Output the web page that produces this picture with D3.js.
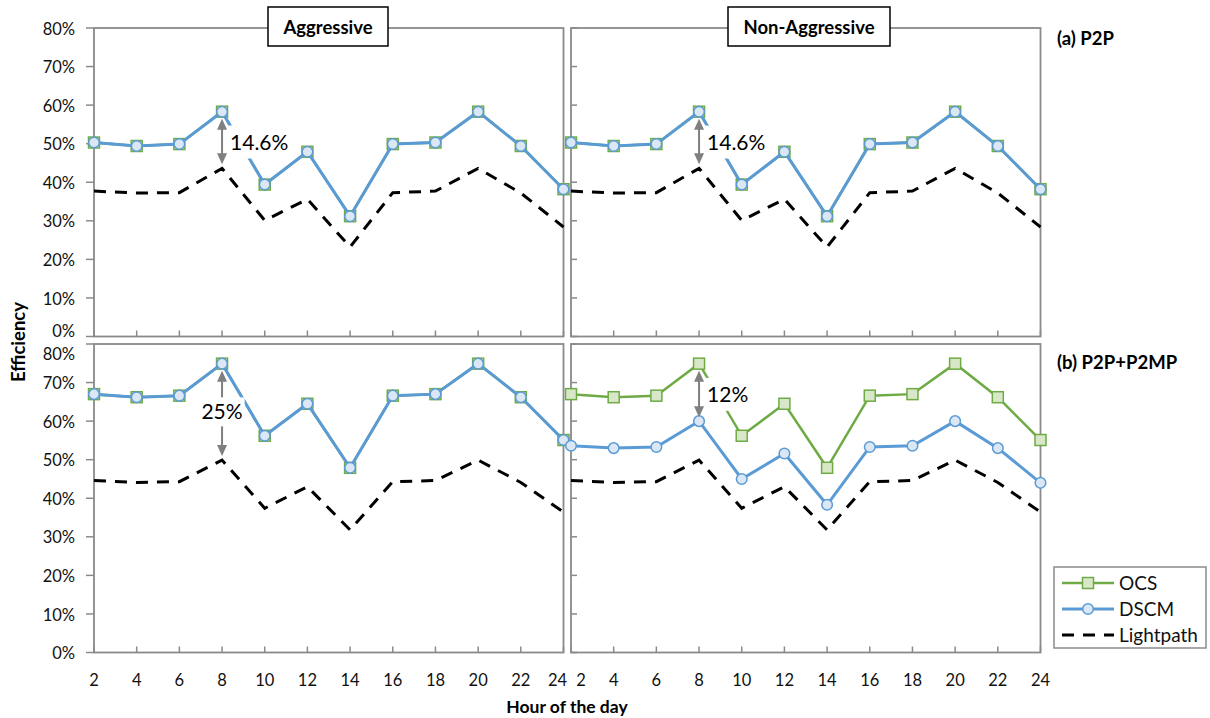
<!DOCTYPE html>
<html>
<head>
<meta charset="utf-8">
<script src="https://cdn.jsdelivr.net/npm/d3@7"></script>
<style>
  body { margin: 0; background: #fff; }
  text { font-family: Lato, "Open Sans", sans-serif; }
</style>
</head>
<body>
<div id="chart"></div>
<script>
// Hours on the x axis and the y tick values (percent)
var hours = [2, 4, 6, 8, 10, 12, 14, 16, 18, 20, 22, 24];
var yTicks = [0, 10, 20, 30, 40, 50, 60, 70, 80];

// (a) P2P - same for both policies
var p2pOCS   = [50.3, 49.4, 49.9, 58.3, 39.4, 47.9, 31.2, 49.9, 50.3, 58.3, 49.4, 38.2];
var p2pDSCM  = [50.3, 49.4, 49.9, 58.3, 39.4, 47.9, 31.2, 49.9, 50.3, 58.3, 49.4, 38.2];
var p2pLight = [37.7, 37.2, 37.3, 43.6, 30.1, 35.6, 23.2, 37.3, 37.7, 43.6, 37.2, 28.4];

// (b) P2P+P2MP
var mpOCS        = [67.0, 66.2, 66.6, 74.9, 56.2, 64.5, 47.9, 66.6, 67.0, 74.9, 66.2, 55.1];
var mpAggDSCM    = [67.0, 66.2, 66.6, 74.9, 56.2, 64.5, 47.9, 66.6, 67.0, 74.9, 66.2, 55.1];
var mpNonAggDSCM = [53.6, 53.0, 53.3, 60.0, 45.0, 51.6, 38.3, 53.3, 53.6, 60.0, 53.0, 44.0];
var mpLight      = [44.6, 44.1, 44.3, 49.9, 37.4, 43.0, 31.8, 44.3, 44.6, 49.9, 44.1, 36.4];

var columnTitles = ["Aggressive", "Non-Aggressive"];
var rowTitles = ["(a) P2P", "(b) P2P+P2MP"];
var seriesNames = ["OCS", "DSCM", "Lightpath"];

// Gap annotations: panel index, hour, upper value, lower value, label
var gapPanels = [0, 1, 2, 3];
var gapHours  = [8, 8, 8, 8];
var gapUpper  = [58.3, 58.3, 74.9, 74.9];
var gapLower  = [43.6, 43.6, 49.9, 60.0];
var gapLabels = ["14.6%", "14.6%", "25%", "12%"];

// Colours
var green = "#6fab45", greenFill = "#d8e7c8";
var blue = "#5b9bd5", blueFill = "#dbe7f5";
var borderGray = "#8a8a8a", arrowGray = "#7f7f7f";

var width = 1210, height = 718;

var svg = d3.select("#chart")
    .append("svg")
    .attr("width", width)
    .attr("height", height);

// Panel layout
var colLeft = [94, 571];
var panelW = 469.5;
var rowTop = [28, 344];
var panelH = 308.5;

var panels = [
    {col: 0, row: 0, ocs: p2pOCS, dscm: p2pDSCM, light: p2pLight},
    {col: 1, row: 0, ocs: p2pOCS, dscm: p2pDSCM, light: p2pLight},
    {col: 0, row: 1, ocs: mpOCS, dscm: mpAggDSCM, light: mpLight},
    {col: 1, row: 1, ocs: mpOCS, dscm: mpNonAggDSCM, light: mpLight}
];

panels.forEach(function(p, pi) {
    var x0 = colLeft[p.col], y0 = rowTop[p.row];
    var xScale = d3.scaleLinear().domain([2, 24]).range([x0, x0 + panelW]);
    var yScale = d3.scaleLinear().domain([0, 80]).range([y0 + panelH, y0]);
    p.x = xScale; p.y = yScale;

    var g = svg.append("g");

    // Panel frame
    g.append("rect")
        .attr("x", x0).attr("y", y0)
        .attr("width", panelW).attr("height", panelH)
        .attr("fill", "none")
        .attr("stroke", borderGray)
        .attr("stroke-width", 1.8);

    // y ticks: outward on left panels, inward on right panels
    g.selectAll(".ytick")
        .data(yTicks)
        .enter()
        .append("line")
        .attr("x1", p.col === 0 ? x0 - 8 : x0)
        .attr("x2", p.col === 0 ? x0 : x0 + 6)
        .attr("y1", function(d) { return yScale(d); })
        .attr("y2", function(d) { return yScale(d); })
        .attr("stroke", borderGray)
        .attr("stroke-width", 1.5);

    // x ticks pointing up into the plot
    g.selectAll(".xtick")
        .data(hours)
        .enter()
        .append("line")
        .attr("x1", function(d) { return xScale(d); })
        .attr("x2", function(d) { return xScale(d); })
        .attr("y1", y0 + panelH)
        .attr("y2", y0 + panelH - 6)
        .attr("stroke", borderGray)
        .attr("stroke-width", 1.5);

    // y tick labels on the left column only
    if (p.col === 0) {
        g.selectAll(".ylab")
            .data(yTicks)
            .enter()
            .append("text")
            .attr("x", 75)
            .attr("y", function(d) {
                var shift = 0;
                if (p.row === 0 && d === 0) shift = -6;
                if (p.row === 1 && d === 80) shift = 9;
                return yScale(d) + shift;
            })
            .attr("dy", "0.4em")
            .attr("text-anchor", "end")
            .attr("font-size", "16.5px")
            .attr("fill", "#111")
            .text(function(d) { return d + "%"; });
    }

    // x tick labels on the bottom row only
    if (p.row === 1) {
        g.selectAll(".xlab")
            .data(hours)
            .enter()
            .append("text")
            .attr("x", function(d) {
                var shift = 0;
                if (p.col === 0 && d === 24) shift = -6;
                if (p.col === 1 && d === 2) shift = 10;
                return xScale(d) + shift;
            })
            .attr("y", 686)
            .attr("text-anchor", "middle")
            .attr("font-size", "16.5px")
            .attr("fill", "#111")
            .text(function(d) { return d; });
    }

    var line = function(vals) {
        return d3.line()
            .x(function(d, i) { return xScale(hours[i]); })
            .y(function(d) { return yScale(d); })(vals);
    };

    // OCS
    g.append("path")
        .attr("d", line(p.ocs))
        .attr("fill", "none")
        .attr("stroke", green)
        .attr("stroke-width", 2.5);
    g.selectAll(".ocsmark")
        .data(p.ocs)
        .enter()
        .append("rect")
        .attr("x", function(d, i) { return xScale(hours[i]) - 5.5; })
        .attr("y", function(d) { return yScale(d) - 5.5; })
        .attr("width", 11).attr("height", 11)
        .attr("fill", greenFill)
        .attr("stroke", green)
        .attr("stroke-width", 1.5);

    // DSCM
    g.append("path")
        .attr("d", line(p.dscm))
        .attr("fill", "none")
        .attr("stroke", blue)
        .attr("stroke-width", 3);
    g.selectAll(".dscmmark")
        .data(p.dscm)
        .enter()
        .append("circle")
        .attr("cx", function(d, i) { return xScale(hours[i]); })
        .attr("cy", function(d) { return yScale(d); })
        .attr("r", 5.3)
        .attr("fill", blueFill)
        .attr("stroke", blue)
        .attr("stroke-width", 1.5);

    // Lightpath
    g.append("path")
        .attr("d", line(p.light))
        .attr("fill", "none")
        .attr("stroke", "#000")
        .attr("stroke-width", 3)
        .attr("stroke-dasharray", "12,9");
});

// Gap annotations with double arrows
gapPanels.forEach(function(pi, k) {
    var p = panels[pi];
    var ax = p.x(gapHours[k]);
    var yTop = p.y(gapUpper[k]) + 7;
    var yBot = p.y(gapLower[k]) - 4;
    var g = svg.append("g");

    g.append("line")
        .attr("x1", ax).attr("x2", ax)
        .attr("y1", yTop + 8).attr("y2", yBot - 8)
        .attr("stroke", arrowGray)
        .attr("stroke-width", 2);
    g.append("path")
        .attr("d", "M" + ax + "," + yTop + "L" + (ax - 5) + "," + (yTop + 11) + "L" + (ax + 5) + "," + (yTop + 11) + "Z")
        .attr("fill", arrowGray);
    g.append("path")
        .attr("d", "M" + ax + "," + yBot + "L" + (ax - 5) + "," + (yBot - 11) + "L" + (ax + 5) + "," + (yBot - 11) + "Z")
        .attr("fill", arrowGray);

    var label = g.append("text")
        .attr("font-size", "21px")
        .attr("fill", "#000")
        .text(gapLabels[k]);

    if (p.row === 1 && p.col === 0) {
        // label sits on the arrow shaft
        var mid = (yTop + yBot) / 2 - 2;
        label.attr("x", ax).attr("y", mid + 7.5).attr("text-anchor", "middle");
        var bb = label.node().getBBox();
        g.insert("rect", "text")
            .attr("x", bb.x - 2).attr("y", mid - 14)
            .attr("width", bb.width + 4).attr("height", 29)
            .attr("fill", "#fff");
    } else {
        var mid2 = (yTop + yBot) / 2 + 1;
        label.attr("x", ax + 8).attr("y", mid2 + 7.5).attr("text-anchor", "start");
        var bb2 = label.node().getBBox();
        g.insert("rect", "text")
            .attr("x", bb2.x - 2).attr("y", mid2 - 17)
            .attr("width", bb2.width + 6).attr("height", 33)
            .attr("fill", "#fff");
    }
});

// Column title boxes
var titleBoxes = [[268, 120], [728, 162]];
columnTitles.forEach(function(t, i) {
    svg.append("rect")
        .attr("x", titleBoxes[i][0]).attr("y", 7)
        .attr("width", titleBoxes[i][1]).attr("height", 39)
        .attr("fill", "#fff")
        .attr("stroke", "#000")
        .attr("stroke-width", 1.5);
    svg.append("text")
        .attr("x", titleBoxes[i][0] + titleBoxes[i][1] / 2)
        .attr("y", 33.5)
        .attr("text-anchor", "middle")
        .attr("font-size", "18.5px")
        .attr("font-weight", "bold")
        .text(t);
});

// Row titles
var rowTitleY = [45, 369];
rowTitles.forEach(function(t, i) {
    svg.append("text")
        .attr("x", 1057)
        .attr("y", rowTitleY[i])
        .attr("font-size", "18.5px")
        .attr("font-weight", "bold")
        .text(t);
});

// Axis titles
svg.append("text")
    .attr("transform", "translate(25,342) rotate(-90)")
    .attr("text-anchor", "middle")
    .attr("font-size", "18.5px")
    .attr("font-weight", "bold")
    .text("Efficiency");

svg.append("text")
    .attr("x", 567)
    .attr("y", 713)
    .attr("text-anchor", "middle")
    .attr("font-size", "17.5px")
    .attr("font-weight", "bold")
    .text("Hour of the day");

// Legend
var legend = svg.append("g");
legend.append("rect")
    .attr("x", 1054).attr("y", 567)
    .attr("width", 152).attr("height", 81)
    .attr("fill", "#fff")
    .attr("stroke", borderGray)
    .attr("stroke-width", 1.5);

var legendY = [583, 609, 635];
seriesNames.forEach(function(name, i) {
    var ly = legendY[i];
    var ln = legend.append("line")
        .attr("x1", 1062).attr("x2", 1114)
        .attr("y1", ly).attr("y2", ly)
        .attr("stroke-width", i === 0 ? 2.5 : 3);
    if (i === 0) {
        ln.attr("stroke", green);
        legend.append("rect")
            .attr("x", 1082.5).attr("y", ly - 5.5)
            .attr("width", 11).attr("height", 11)
            .attr("fill", greenFill).attr("stroke", green).attr("stroke-width", 1.5);
    } else if (i === 1) {
        ln.attr("stroke", blue);
        legend.append("circle")
            .attr("cx", 1088).attr("cy", ly).attr("r", 5.3)
            .attr("fill", blueFill).attr("stroke", blue).attr("stroke-width", 1.5);
    } else {
        ln.attr("stroke", "#000").attr("stroke-dasharray", "12,9");
    }
    legend.append("text")
        .attr("x", 1119)
        .attr("y", ly)
        .attr("dy", "0.36em")
        .attr("font-size", "19px")
        .attr("fill", "#111")
        .text(name);
});
</script>
</body>
</html>
